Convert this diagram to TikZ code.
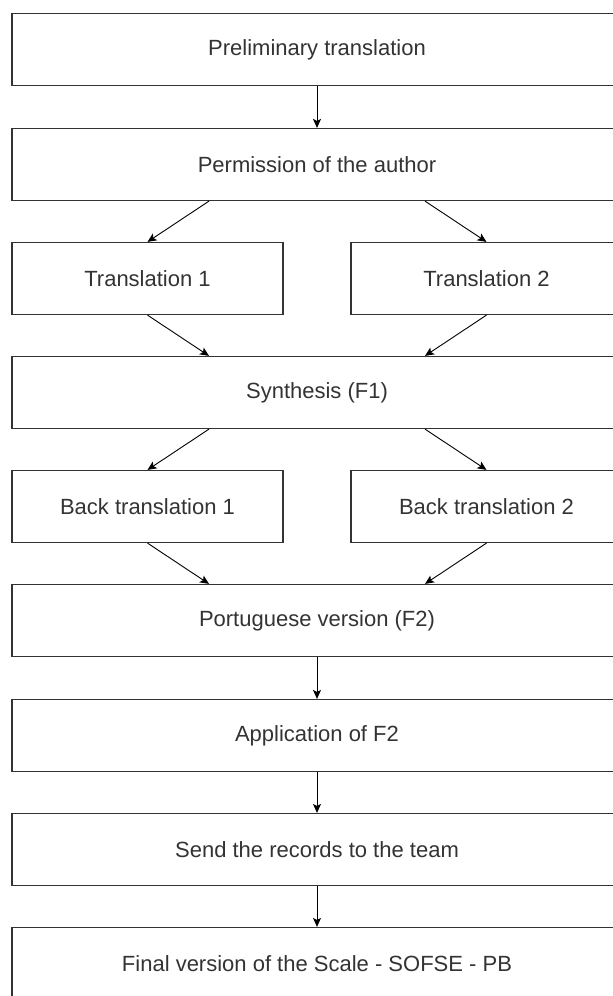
\documentclass[tikz,border=0pt]{standalone}
\usepackage{fontspec}
\setmainfont{Liberation Sans}
\usetikzlibrary{arrows.meta}
\definecolor{txt}{HTML}{333333}
\definecolor{edge}{HTML}{333333}
\begin{document}
\begin{tikzpicture}[x=1pt,y=-1pt,
  boxw/.style={draw=edge,line width=1.2pt,rectangle,minimum width=610pt,minimum height=72pt,inner sep=0pt,text=txt,font=\fontsize{22}{26}\selectfont},
  boxh/.style={boxw,minimum width=271pt},
  arr/.style={draw=black,line width=0.9pt,-{Stealth[length=9pt,width=8pt,inset=2pt]}}]
\useasboundingbox (0,0) rectangle (613,996);
\clip (0,0) rectangle (613,996);
\node[boxw] (pre) at (317,49.5) {Preliminary translation};
\node[boxw] (perm) at (317,164.5) {Permission of the author};
\node[boxh] (t1) at (147.5,278.5) {Translation 1};
\node[boxh] (t2) at (486.5,278.5) {Translation 2};
\node[boxw] (syn) at (317,392.5) {Synthesis (F1)};
\node[boxh] (b1) at (147.5,506.5) {Back translation 1};
\node[boxh] (b2) at (486.5,506.5) {Back translation 2};
\node[boxw] (por) at (317,620.5) {Portuguese version (F2)};
\node[boxw] (app) at (317,735.5) {Application of F2};
\node[boxw] (send) at (317,849.5) {Send the records to the team};
\node[boxw] (fin) at (317,963.5) {Final version of the Scale - SOFSE - PB};
\draw[arr] (pre.south) -- (perm.north);
\draw[arr] ([xshift=-108pt]perm.south) -- (t1.north);
\draw[arr] ([xshift=108pt]perm.south) -- (t2.north);
\draw[arr] (t1.south) -- ([xshift=-108pt]syn.north);
\draw[arr] (t2.south) -- ([xshift=108pt]syn.north);
\draw[arr] ([xshift=-108pt]syn.south) -- (b1.north);
\draw[arr] ([xshift=108pt]syn.south) -- (b2.north);
\draw[arr] (b1.south) -- ([xshift=-108pt]por.north);
\draw[arr] (b2.south) -- ([xshift=108pt]por.north);
\draw[arr] (por.south) -- (app.north);
\draw[arr] (app.south) -- (send.north);
\draw[arr] (send.south) -- (fin.north);
\end{tikzpicture}
\end{document}
